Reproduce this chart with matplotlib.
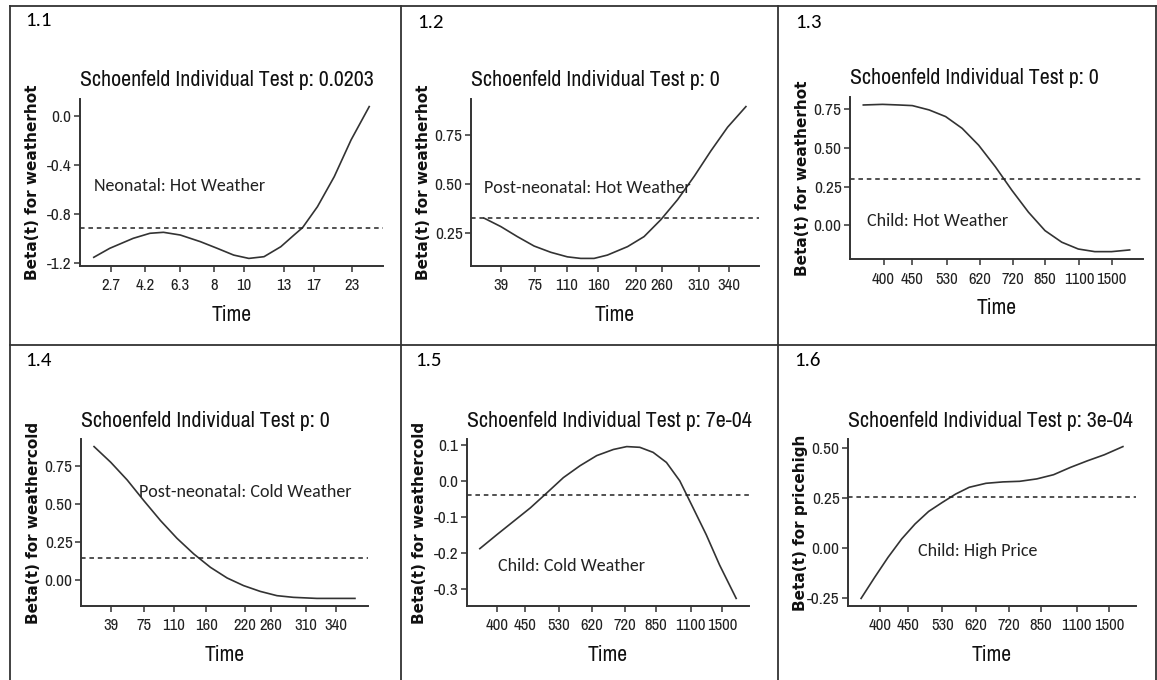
import matplotlib
matplotlib.use('Agg')
import matplotlib.pyplot as plt
from matplotlib import font_manager
from matplotlib.lines import Line2D

W, H = 1157, 680

names = {f.name for f in font_manager.fontManager.ttflist}


def pick(cands):
    for c in cands:
        if c in names:
            return c
    return 'DejaVu Sans'


narrow = pick(['Liberation Sans Narrow', 'Arial Narrow', 'Archivo Narrow', 'Roboto Condensed',
               'PT Sans Narrow', 'Fira Sans Condensed', 'IBM Plex Sans Condensed', 'Liberation Sans'])
note_font = pick(['Carlito', 'Open Sans Condensed', 'Encode Sans Condensed', 'Fira Sans Condensed',
                  'Asap Condensed', 'Roboto Condensed', narrow])
tag_font = pick(['Carlito', 'Lato', 'Open Sans'])
ylab_font = 'DejaVu Sans'

# x is the transformed (KM) time scale, 0 = first event, 1 = last event
# ---- 1.1 Neonatal: hot weather
t11 = [0.0, 0.058, 0.143, 0.204, 0.253, 0.314, 0.387, 0.448, 0.508, 0.563,
       0.618, 0.679, 0.727, 0.758, 0.812, 0.873, 0.934, 1.0]
b11 = [-1.151, -1.078, -0.997, -0.956, -0.948, -0.970, -1.024, -1.078, -1.133, -1.160,
       -1.146, -1.065, -0.970, -0.910, -0.740, -0.496, -0.198, 0.073]
coef11 = -0.916
xt11 = [0.062, 0.186, 0.314, 0.438, 0.546, 0.69, 0.80, 0.938]
xl11 = ['2.7', '4.2', '6.3', '8', '10', '13', '17', '23']
yt11 = [0.0, -0.4, -0.8, -1.2]

# ---- 1.2 Post-neonatal: hot weather
t12 = [0.0, 0.064, 0.127, 0.191, 0.255, 0.318, 0.369, 0.420, 0.471, 0.548,
       0.611, 0.675, 0.739, 0.803, 0.866, 0.930, 1.0]
b12 = [0.327, 0.284, 0.233, 0.185, 0.153, 0.130, 0.122, 0.122, 0.139, 0.182,
       0.233, 0.319, 0.421, 0.541, 0.669, 0.790, 0.895]
coef12 = 0.327
xt12 = [0.066, 0.194, 0.315, 0.436, 0.581, 0.679, 0.819, 0.934]
xl12 = ['39', '75', '110', '160', '220', '260', '310', '340']
yt12 = [0.25, 0.50, 0.75]

# ---- 1.3 Child: hot weather
t13 = [0.0, 0.072, 0.134, 0.184, 0.247, 0.309, 0.371, 0.433, 0.496, 0.558,
       0.620, 0.682, 0.745, 0.807, 0.869, 0.932, 1.0]
b13 = [0.778, 0.782, 0.778, 0.774, 0.746, 0.703, 0.627, 0.518, 0.378, 0.226,
       0.085, -0.034, -0.109, -0.153, -0.170, -0.170, -0.159]
coef13 = 0.302
xt13 = [0.076, 0.184, 0.315, 0.437, 0.562, 0.682, 0.811, 0.932]
xl13 = ['400', '450', '530', '620', '720', '850', '1100', '1500']
yt13 = [0.00, 0.25, 0.50, 0.75]

# ---- 1.4 Post-neonatal: cold weather
t14 = [0.0, 0.064, 0.127, 0.191, 0.255, 0.318, 0.382, 0.446, 0.510, 0.573,
       0.637, 0.701, 0.764, 0.854, 1.0]
b14 = [0.875, 0.772, 0.656, 0.520, 0.389, 0.273, 0.171, 0.083, 0.013, -0.037,
       -0.075, -0.103, -0.114, -0.121, -0.121]
coef14 = 0.144
xt14 = [0.064, 0.191, 0.306, 0.431, 0.577, 0.678, 0.813, 0.927]
xl14 = ['39', '75', '110', '160', '220', '260', '310', '340']
yt14 = [0.00, 0.25, 0.50, 0.75]

# ---- 1.5 Child: cold weather
t15 = [0.0, 0.067, 0.132, 0.197, 0.262, 0.326, 0.391, 0.456, 0.521, 0.573,
       0.624, 0.676, 0.728, 0.780, 0.832, 0.883, 0.935, 1.0]
b15 = [-0.188, -0.149, -0.112, -0.075, -0.033, 0.009, 0.042, 0.070, 0.087, 0.095,
       0.093, 0.079, 0.051, 0.000, -0.075, -0.149, -0.233, -0.326]
coef15 = -0.039
xt15 = [0.067, 0.175, 0.307, 0.437, 0.566, 0.687, 0.823, 0.946]
xl15 = ['400', '450', '530', '620', '720', '850', '1100', '1500']
yt15 = [-0.3, -0.2, -0.1, 0.0, 0.1]

# ---- 1.6 Child: high price
t16 = [0.0, 0.052, 0.103, 0.155, 0.206, 0.258, 0.310, 0.361, 0.413, 0.477,
       0.542, 0.606, 0.671, 0.735, 0.8, 0.865, 0.929, 1.0]
b16 = [-0.252, -0.146, -0.046, 0.046, 0.121, 0.184, 0.229, 0.271, 0.305, 0.325,
       0.332, 0.335, 0.347, 0.368, 0.405, 0.438, 0.468, 0.509]
coef16 = 0.258
xt16 = [0.071, 0.178, 0.310, 0.439, 0.564, 0.686, 0.823, 0.948]
xl16 = ['400', '450', '530', '620', '720', '850', '1100', '1500']
yt16 = [-0.25, 0.00, 0.25, 0.50]

panels = [
    ('1.1', '0.0203', 'weatherhot', 'Neonatal: Hot Weather', t11, b11, coef11, xt11, xl11, yt11, '{:.1f}'),
    ('1.2', '0', 'weatherhot', 'Post-neonatal: Hot Weather', t12, b12, coef12, xt12, xl12, yt12, '{:.2f}'),
    ('1.3', '0', 'weatherhot', 'Child: Hot Weather', t13, b13, coef13, xt13, xl13, yt13, '{:.2f}'),
    ('1.4', '0', 'weathercold', 'Post-neonatal: Cold Weather', t14, b14, coef14, xt14, xl14, yt14, '{:.2f}'),
    ('1.5', '7e-04', 'weathercold', 'Child: Cold Weather', t15, b15, coef15, xt15, xl15, yt15, '{:.1f}'),
    ('1.6', '3e-04', 'pricehigh', 'Child: High Price', t16, b16, coef16, xt16, xl16, yt16, '{:.2f}'),
]

# layout in pixels: axes box (left, top, right, bottom), panel label pos, note pos (data)
boxes = [(80, 99, 383, 266), (471, 99, 759, 266), (850, 97, 1143, 259),
         (81, 439, 368, 606), (467, 439, 749, 606), (848, 439, 1136, 606)]
tags = [(25, 21), (417, 22), (795, 22), (25, 361), (415, 361), (794, 361)]
notes = [(0.0, -0.57), (0.0, 0.481), (0.012, 0.031), (0.172, 0.575), (0.07, -0.236), (0.217, -0.016)]

fig = plt.figure(figsize=(W / 100, H / 100), dpi=100)

# table borders
for x in [10, 401, 778, 1156]:
    fig.add_artist(Line2D([x / W, x / W], [1 - 6 / H, 0], color='#333333', lw=1.3))
for y in [6, 345]:
    fig.add_artist(Line2D([10 / W, 1], [1 - y / H, 1 - y / H], color='#333333', lw=1.3))

for (tag, p, var, note, t, b, coef, xt, xl, yt, fmt), box, tg, nt in zip(panels, boxes, tags, notes):
    l, tp, r, bt = box
    ax = fig.add_axes([l / W, 1 - bt / H, (r - l) / W, (bt - tp) / H])
    ax.plot(t, b, color='#333333', lw=1.2)
    ax.axhline(coef, color='#222222', lw=1.1, ls=(0, (3, 2.5)))
    ax.margins(x=0.05, y=0.05)
    ax.set_xticks(xt)
    ax.set_xticklabels(xl)
    ax.set_yticks(yt)
    ax.set_yticklabels([fmt.format(v) for v in yt])
    for s in ['top', 'right']:
        ax.spines[s].set_visible(False)
    for s in ['left', 'bottom']:
        ax.spines[s].set_color('#333333')
        ax.spines[s].set_linewidth(1.4)
    ax.tick_params(length=4, width=1.1, color='#333333', labelcolor='#222222')
    ax.tick_params(axis='x', pad=5, labelsize=12)
    ax.tick_params(axis='y', pad=2, labelsize=12.5)
    for lab in ax.get_xticklabels() + ax.get_yticklabels():
        lab.set_fontfamily(narrow)
    ax.set_title('Schoenfeld Individual Test p: ' + p, loc='left', fontfamily=narrow,
                 fontsize=15.8, pad=9, color='#111111')
    ax.set_xlabel('Time', fontfamily=narrow, fontsize=15.5, labelpad=8, color='#111111')
    ax.set_ylabel('Beta(t) for ' + var, fontfamily=ylab_font, fontweight='bold',
                  fontsize=11, va='center', color='#111111')
    ax.yaxis.set_label_coords(-47 / (r - l), 0.5)
    ax.text(nt[0], nt[1], note, fontfamily=note_font, fontsize=13, va='center', ha='left', color='#222222')
    fig.text(tg[0] / W, 1 - tg[1] / H, tag, fontfamily=tag_font, fontsize=15, va='center', ha='left')

fig.savefig('out.png', dpi=100)
